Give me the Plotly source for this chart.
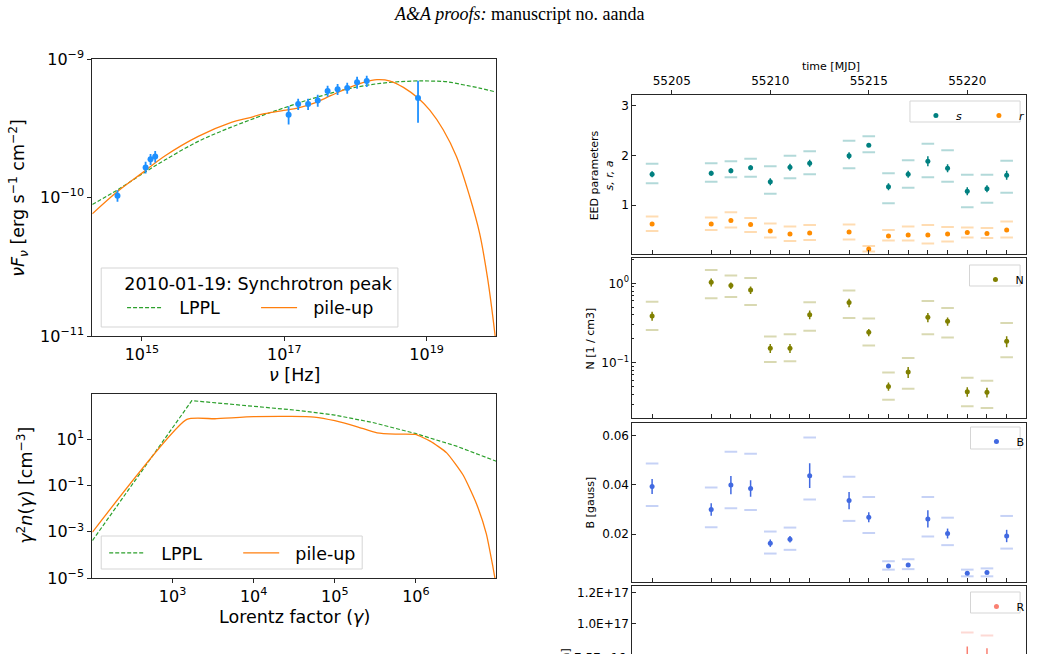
import plotly.graph_objects as go

W, H = 1042, 654
def px(x): return x / W
def py(y): return 1 - y / H

# ---------------- Left: SED data (2010-01-19) ----------------
sed_nu = [4.53e14, 1.125e15, 1.32e15, 1.535e15, 1.15e17, 1.567e17, 2.16e17, 2.95e17,
          4.06e17, 5.61e17, 7.66e17, 1.054e18, 1.44e18, 7.57e18]
sed_flux = [1.03e-10, 1.65e-10, 1.89e-10, 1.98e-10, 3.96e-10, 4.73e-10, 4.73e-10, 5.02e-10,
            5.87e-10, 6.04e-10, 6.17e-10, 6.78e-10, 6.93e-10, 5.22e-10]
sed_err = [0.10e-10, 0.16e-10, 0.17e-10, 0.19e-10, 0.60e-10, 0.44e-10, 0.44e-10, 0.49e-10,
           0.53e-10, 0.55e-10, 0.56e-10, 0.67e-10, 0.65e-10, 1.75e-10]

# model curves (log10 values)
lppl_lognu = [14.302, 14.656, 15.0, 15.326, 15.791, 16.256, 16.721, 16.991, 17.419, 17.884,
              18.349, 18.814, 19.047, 19.279, 19.512, 19.744, 19.977]
lppl_logF = [-10.051, -9.945, -9.831, -9.728, -9.595, -9.492, -9.402, -9.354, -9.282, -9.217,
             -9.176, -9.159, -9.159, -9.164, -9.186, -9.210, -9.239]
pile_lognu = [14.302, 14.656, 15.0, 15.326, 15.791, 16.256, 16.488, 16.721, 16.991, 17.186,
              17.419, 17.651, 17.884, 18.116, 18.302, 18.488, 18.674, 18.879, 19.047, 19.233,
              19.419, 19.605, 19.744, 19.860, 19.963]
pile_logF = [-10.118, -9.957, -9.824, -9.699, -9.559, -9.458, -9.427, -9.395, -9.371, -9.354,
             -9.318, -9.265, -9.212, -9.169, -9.149, -9.159, -9.205, -9.282, -9.371, -9.511,
             -9.704, -9.993, -10.258, -10.595, -11.0]

# electron energy distributions (log10 values)
eed_lppl_logg = [2.012, 3.237, 3.604, 4.0, 4.502, 5.0, 5.482, 5.992, 6.502, 6.992]
eed_lppl_logn = [-3.377, 2.681, 2.565, 2.449, 2.275, 2.058, 1.725, 1.261, 0.710, 0.058]
eed_pile_logg = [2.012, 3.176, 3.522, 4.0, 4.461, 4.747, 5.0, 5.278, 5.522, 5.747, 5.992,
                 6.176, 6.380, 6.584, 6.747, 6.869, 6.951, 6.976]
eed_pile_logn = [-3.014, 1.870, 1.899, 1.986, 2.0, 1.971, 1.812, 1.551, 1.290, 1.232, 1.217,
                 0.928, 0.420, -0.551, -1.783, -3.087, -4.536, -5.029]

# ---------------- Right: parameter light curves ----------------
days = [55204, 55207, 55208, 55209, 55210, 55211, 55212, 55214, 55215, 55216, 55217, 55218,
        55219, 55220, 55221, 55222]
s_val = [1.62, 1.64, 1.69, 1.75, 1.47, 1.76, 1.84, 1.99, 2.20, 1.37, 1.62, 1.88, 1.74, 1.28, 1.33, 1.60]
s_err = [0.06, 0.05, 0.05, 0.05, 0.07, 0.07, 0.07, 0.07, 0.03, 0.07, 0.07, 0.10, 0.08, 0.08, 0.07, 0.09]
s_hi = [1.83, 1.84, 1.88, 1.93, 1.78, 1.99, 2.08, 2.29, 2.38, 1.64, 1.90, 2.23, 2.10, 1.61, 1.61, 1.89]
s_lo = [1.44, 1.47, 1.56, 1.57, 1.23, 1.54, 1.62, 1.74, 2.06, 1.04, 1.35, 1.56, 1.47, 0.96, 1.05, 1.25]
r_val = [0.62, 0.62, 0.69, 0.61, 0.48, 0.42, 0.44, 0.46, 0.12, 0.38, 0.40, 0.40, 0.42, 0.45, 0.43, 0.50]
r_err = [0.03, 0.03, 0.03, 0.03, 0.03, 0.03, 0.03, 0.03, 0.03, 0.03, 0.03, 0.04, 0.03, 0.03, 0.03, 0.03]
r_hi = [0.77, 0.75, 0.86, 0.74, 0.63, 0.57, 0.60, 0.61, 0.18, 0.50, 0.57, 0.60, 0.56, 0.55, 0.54, 0.67]
r_lo = [0.48, 0.50, 0.55, 0.46, 0.35, 0.28, 0.30, 0.31, 0.07, 0.29, 0.29, 0.23, 0.27, 0.35, 0.34, 0.35]
N_val = [0.387, 1.03, 0.935, 0.824, 0.152, 0.152, 0.403, 0.571, 0.241, 0.0503, 0.0762, 0.373,
         0.332, 0.0431, 0.0423, 0.186]
N_err = [0.05, 0.12, 0.09, 0.09, 0.02, 0.02, 0.05, 0.07, 0.025, 0.006, 0.012, 0.05, 0.04,
         0.006, 0.006, 0.03]
N_hi = [0.587, 1.47, 1.25, 1.17, 0.213, 0.228, 0.576, 0.809, 0.359, 0.0755, 0.1145, 0.599,
        0.489, 0.0647, 0.0593, 0.316]
N_lo = [0.258, 0.647, 0.67, 0.533, 0.102, 0.104, 0.253, 0.366, 0.165, 0.0342, 0.047, 0.228,
        0.207, 0.0282, 0.0268, 0.117]
B_val = [0.0393, 0.0300, 0.0399, 0.0385, 0.0164, 0.0180, 0.0437, 0.0336, 0.0269, 0.0072,
         0.0076, 0.0262, 0.0203, 0.0042, 0.0045, 0.0193]
B_err = [0.003, 0.0025, 0.0037, 0.0033, 0.0015, 0.0013, 0.005, 0.0035, 0.002, 0.0005, 0.0005,
         0.0035, 0.002, 0.0004, 0.0004, 0.0025]
B_hi = [0.0486, 0.0389, 0.0534, 0.0525, 0.0211, 0.0227, 0.0591, 0.0432, 0.0351, 0.0091,
        0.0099, 0.0351, 0.0267, 0.0057, 0.0062, 0.0274]
B_lo = [0.0314, 0.0228, 0.0305, 0.0298, 0.0122, 0.0137, 0.0341, 0.0254, 0.0205, 0.0057,
        0.0059, 0.0191, 0.0156, 0.0030, 0.0030, 0.0142]
R_days = [55220, 55221]
R_val = [0.78e17, 0.77e17]
R_err = [0.072e17, 0.071e17]
R_hi = [0.942e17, 0.923e17]
R_lo = [0.62e17, 0.62e17]

time_ticks = [55205, 55210, 55215, 55220]

# tick labels
sed_x_ticks = [1e15, 1e17, 1e19]
sed_x_text = ["10<sup>15</sup>", "10<sup>17</sup>", "10<sup>19</sup>"]
sed_y_ticks = [1e-11, 1e-10, 1e-9]
sed_y_text = ["10<sup>−11</sup>", "10<sup>−10</sup>", "10<sup>−9</sup>"]
eed_x_ticks = [1e3, 1e4, 1e5, 1e6]
eed_x_text = ["10<sup>3</sup>", "10<sup>4</sup>", "10<sup>5</sup>", "10<sup>6</sup>"]
eed_y_ticks = [1e-5, 1e-3, 1e-1, 1e1]
eed_y_text = ["10<sup>−5</sup>", "10<sup>−3</sup>", "10<sup>−1</sup>", "10<sup>1</sup>"]
N_ticks = [0.1, 1]
N_text = ["10<sup>−1</sup>", "10<sup>0</sup>"]
N_minor = [0.03, 0.04, 0.05, 0.06, 0.07, 0.08, 0.09, 0.2, 0.3, 0.4, 0.5, 0.6, 0.7, 0.8, 0.9, 2]

GREEN = "#2ca02c"
ORANGE = "#ff7f0e"
FONT = "DejaVu Sans"
NB = "\u00a0"
BIG = 17.5

fig = go.Figure()

# ---- top-left SED ----
fig.add_trace(go.Scatter(x=[10 ** v for v in lppl_lognu], y=[10 ** v for v in lppl_logF],
                         mode="lines", name=NB * 2 + "LPPL", line=dict(color=GREEN, width=1.2, dash="4px,2px"),
                         line_shape="spline", xaxis="x", yaxis="y", legend="legend"))
fig.add_trace(go.Scatter(x=[10 ** v for v in pile_lognu], y=[10 ** v for v in pile_logF],
                         mode="lines", name=NB * 2 + "pile-up", line=dict(color=ORANGE, width=1.3),
                         line_shape="spline", xaxis="x", yaxis="y", legend="legend"))
fig.add_trace(go.Scatter(x=sed_nu, y=sed_flux, mode="markers", showlegend=False,
                         marker=dict(color="#1e90ff", size=6),
                         error_y=dict(type="data", array=sed_err, color="#1e90ff", thickness=1.8, width=0),
                         xaxis="x", yaxis="y"))

# ---- bottom-left EED ----
fig.add_trace(go.Scatter(x=[10 ** v for v in eed_lppl_logg], y=[10 ** v for v in eed_lppl_logn],
                         mode="lines", name=NB * 2 + "LPPL", line=dict(color=GREEN, width=1.2, dash="4px,2px"),
                         xaxis="x2", yaxis="y2", legend="legend2"))
fig.add_trace(go.Scatter(x=[10 ** v for v in eed_pile_logg], y=[10 ** v for v in eed_pile_logn],
                         mode="lines", name=NB * 2 + "pile-up", line=dict(color=ORANGE, width=1.3),
                         line_shape="spline", line_smoothing=0.5,
                         xaxis="x2", yaxis="y2", legend="legend2"))

# ---- right panels ----
def param(xs, val, err, hi, lo, color, band, name, xa, ya, leg):
    for b in (hi, lo):
        fig.add_trace(go.Scatter(x=xs, y=b, mode="markers", showlegend=False, hoverinfo="skip",
                                 marker=dict(symbol="line-ew", size=9, line=dict(color=band, width=2)),
                                 xaxis=xa, yaxis=ya))
    fig.add_trace(go.Scatter(x=xs, y=val, mode="markers", name=name,
                             marker=dict(color=color, size=5),
                             error_y=dict(type="data", array=err, color=color, thickness=1.5, width=0),
                             xaxis=xa, yaxis=ya, legend=leg))

param(days, s_val, s_err, s_hi, s_lo, "#008080", "rgba(0,128,128,0.3)", "<i>s</i>", "x3", "y3", "legend3")
param(days, r_val, r_err, r_hi, r_lo, "#ff8c00", "rgba(255,140,0,0.3)", "<i>r</i>", "x3", "y3", "legend3")
param(days, N_val, N_err, N_hi, N_lo, "#808000", "rgba(128,128,0,0.3)", "N", "x4", "y4", "legend4")
param(days, B_val, B_err, B_hi, B_lo, "#4169e1", "rgba(65,105,225,0.3)", "B", "x5", "y5", "legend5")
param(R_days, R_val, R_err, R_hi, R_lo, "#fa8072", "rgba(250,128,114,0.3)", "R", "x6", "y6", "legend6")
# dummy trace to carry the top time axis
fig.add_trace(go.Scatter(x=[time_ticks[0]], y=[None], mode="markers", showlegend=False,
                         hoverinfo="skip", xaxis="x7", yaxis="y3"))

LINE = "#262626"
def left_axis(**kw):
    d = dict(type="log", showline=True, linecolor=LINE, linewidth=1, mirror=True, ticks="outside",
             ticklen=4, tickcolor=LINE, showgrid=False, zeroline=False,
             tickfont=dict(size=16, color="black", family=FONT), automargin=False)
    d.update(kw)
    return d

def right_axis(**kw):
    d = dict(showline=True, linecolor=LINE, linewidth=1, mirror=True, ticks="inside",
             ticklen=4, tickcolor=LINE, showgrid=False, zeroline=False,
             tickfont=dict(size=12, color="black", family=FONT), automargin=False)
    d.update(kw)
    return d

LX = [px(93), px(500)]
RX = [px(637.3), px(1034.3)]
XR = [55203, 55223]

fig.update_layout(
    width=W, height=H, margin=dict(l=0, r=0, t=0, b=0),
    paper_bgcolor="white", plot_bgcolor="white",
    font=dict(family=FONT, color="black"),
    xaxis=left_axis(domain=LX, anchor="y", range=[14.302, 19.977], tickvals=sed_x_ticks, ticktext=sed_x_text),
    yaxis=left_axis(domain=[py(336), py(59)], anchor="x", range=[-11, -9], tickvals=sed_y_ticks,
                    ticktext=sed_y_text),
    xaxis2=left_axis(domain=LX, anchor="y2", range=[2.01, 6.99], tickvals=eed_x_ticks, ticktext=eed_x_text),
    yaxis2=left_axis(domain=[py(578), py(394)], anchor="x2", range=[-5, 2.97],
                     tickvals=eed_y_ticks, ticktext=eed_y_text),
    xaxis3=right_axis(domain=RX, anchor="y3", range=XR, tickvals=days, showticklabels=False),
    yaxis3=right_axis(domain=[py(254), py(95)], anchor="x3", range=[0.02, 3.21], tickvals=[1, 2, 3]),
    xaxis7=dict(overlaying="x3", anchor="y3", side="top", range=XR, tickvals=time_ticks,
                ticktext=[str(t) for t in time_ticks],
                ticks="outside", ticklen=4, tickcolor=LINE, showline=False, showgrid=False,
                zeroline=False, tickfont=dict(size=12, color="black", family=FONT), automargin=False),
    xaxis4=right_axis(domain=RX, anchor="y4", range=XR, tickvals=days, showticklabels=False),
    yaxis4=right_axis(domain=[py(417.7), py(258.3)], anchor="x4", type="log", range=[-1.693, 0.315],
                      tickvals=N_ticks, ticktext=N_text,
                      minor=dict(ticks="inside", ticklen=2, tickcolor=LINE, showgrid=False,
                                 tickmode="array", tickvals=N_minor)),
    xaxis5=right_axis(domain=RX, anchor="y5", range=XR, tickvals=days, showticklabels=False),
    yaxis5=right_axis(domain=[py(582), py(422.7)], anchor="x5", range=[0.0007, 0.0651],
                      tickvals=[0.02, 0.04, 0.06], ticktext=["0.02", "0.04", "0.06"]),
    xaxis6=right_axis(domain=RX, anchor="y6", range=XR, side="top", mirror=False, ticks="",
                      showticklabels=False),
    yaxis6=right_axis(domain=[0, py(586)], anchor="x6", range=[0.804e17, 1.243e17],
                      tickvals=[1.0e17, 1.2e17], ticktext=["1.0E+17", "1.2E+17"]),
)

# legends (frames drawn as shapes)
def frame(x0, y0, x1, y1):
    fig.add_shape(type="rect", xref="paper", yref="paper", x0=px(x0), x1=px(x1), y0=py(y1), y1=py(y0),
                  line=dict(color="#d5d5d5", width=1), fillcolor="rgba(255,255,255,0.85)", layer="above")

frame(102, 268, 401, 327)
frame(102, 536, 365, 569)
frame(917, 101, 1028, 122)
frame(977, 265, 1028, 286)
frame(978, 427, 1028, 449)
frame(978, 592, 1028, 613)

legbase = dict(orientation="h", bgcolor="rgba(0,0,0,0)", borderwidth=0, xanchor="left", yanchor="top",
               tracegroupgap=0)
fig.update_layout(
    legend=dict(legbase, x=px(123), y=py(267), font=dict(size=BIG, family=FONT), itemwidth=36,
                entrywidth=83, title=dict(text="2010-01-19: Synchrotron peak", side="top center",
                                          font=dict(size=BIG, family=FONT))),
    legend2=dict(legbase, x=px(105), y=py(535), font=dict(size=BIG, family=FONT), itemwidth=36,
                 entrywidth=83),
    legend3=dict(legbase, x=px(923), y=py(101), font=dict(size=11, family=FONT), entrywidth=18),
    legend4=dict(legbase, x=px(983), y=py(265), font=dict(size=11, family=FONT)),
    legend5=dict(legbase, x=px(984), y=py(427), font=dict(size=11, family=FONT)),
    legend6=dict(legbase, x=px(984), y=py(592), font=dict(size=11, family=FONT)),
)

def ann(text, x, y, size, angle=0, **kw):
    fig.add_annotation(text=text, x=px(x), y=py(y), xref="paper", yref="paper", showarrow=False,
                       textangle=angle, font=dict(size=size, family=kw.pop("family", FONT), color="black"),
                       xanchor=kw.pop("xanchor", "center"), yanchor=kw.pop("yanchor", "middle"), **kw)

ann("<i>A&amp;A proofs:</i> manuscript no. aanda", 523, 14, 18, family="Liberation Serif")
ann("<i>νF<sub>ν</sub></i> [erg s<sup>−1</sup> cm<sup>−2</sup>]", 19, 198, BIG, -90)
ann("<i>ν</i> [Hz]", 297, 375, BIG)
ann("<i>γ</i><sup>2</sup><i>n</i>(<i>γ</i>) [cm<sup>−3</sup>]", 25, 485, BIG, -90)
ann("Lorentz factor (<i>γ</i>)", 297, 617, BIG)
ann("time [MJD]", 837, 66, 11)
ann("EED parameters<br><i>s, r, a</i>", 606, 175, 11, -90)
ann("N [1 / cm3]", 595, 338, 11, -90)
ann("B [gauss]", 595, 502, 11, -90)
ann("R [cm]", 570, 666, 11, -90)
ann("7.5E+16", 633, 658, 12, xanchor="right")

fig.write_html("out.html")
